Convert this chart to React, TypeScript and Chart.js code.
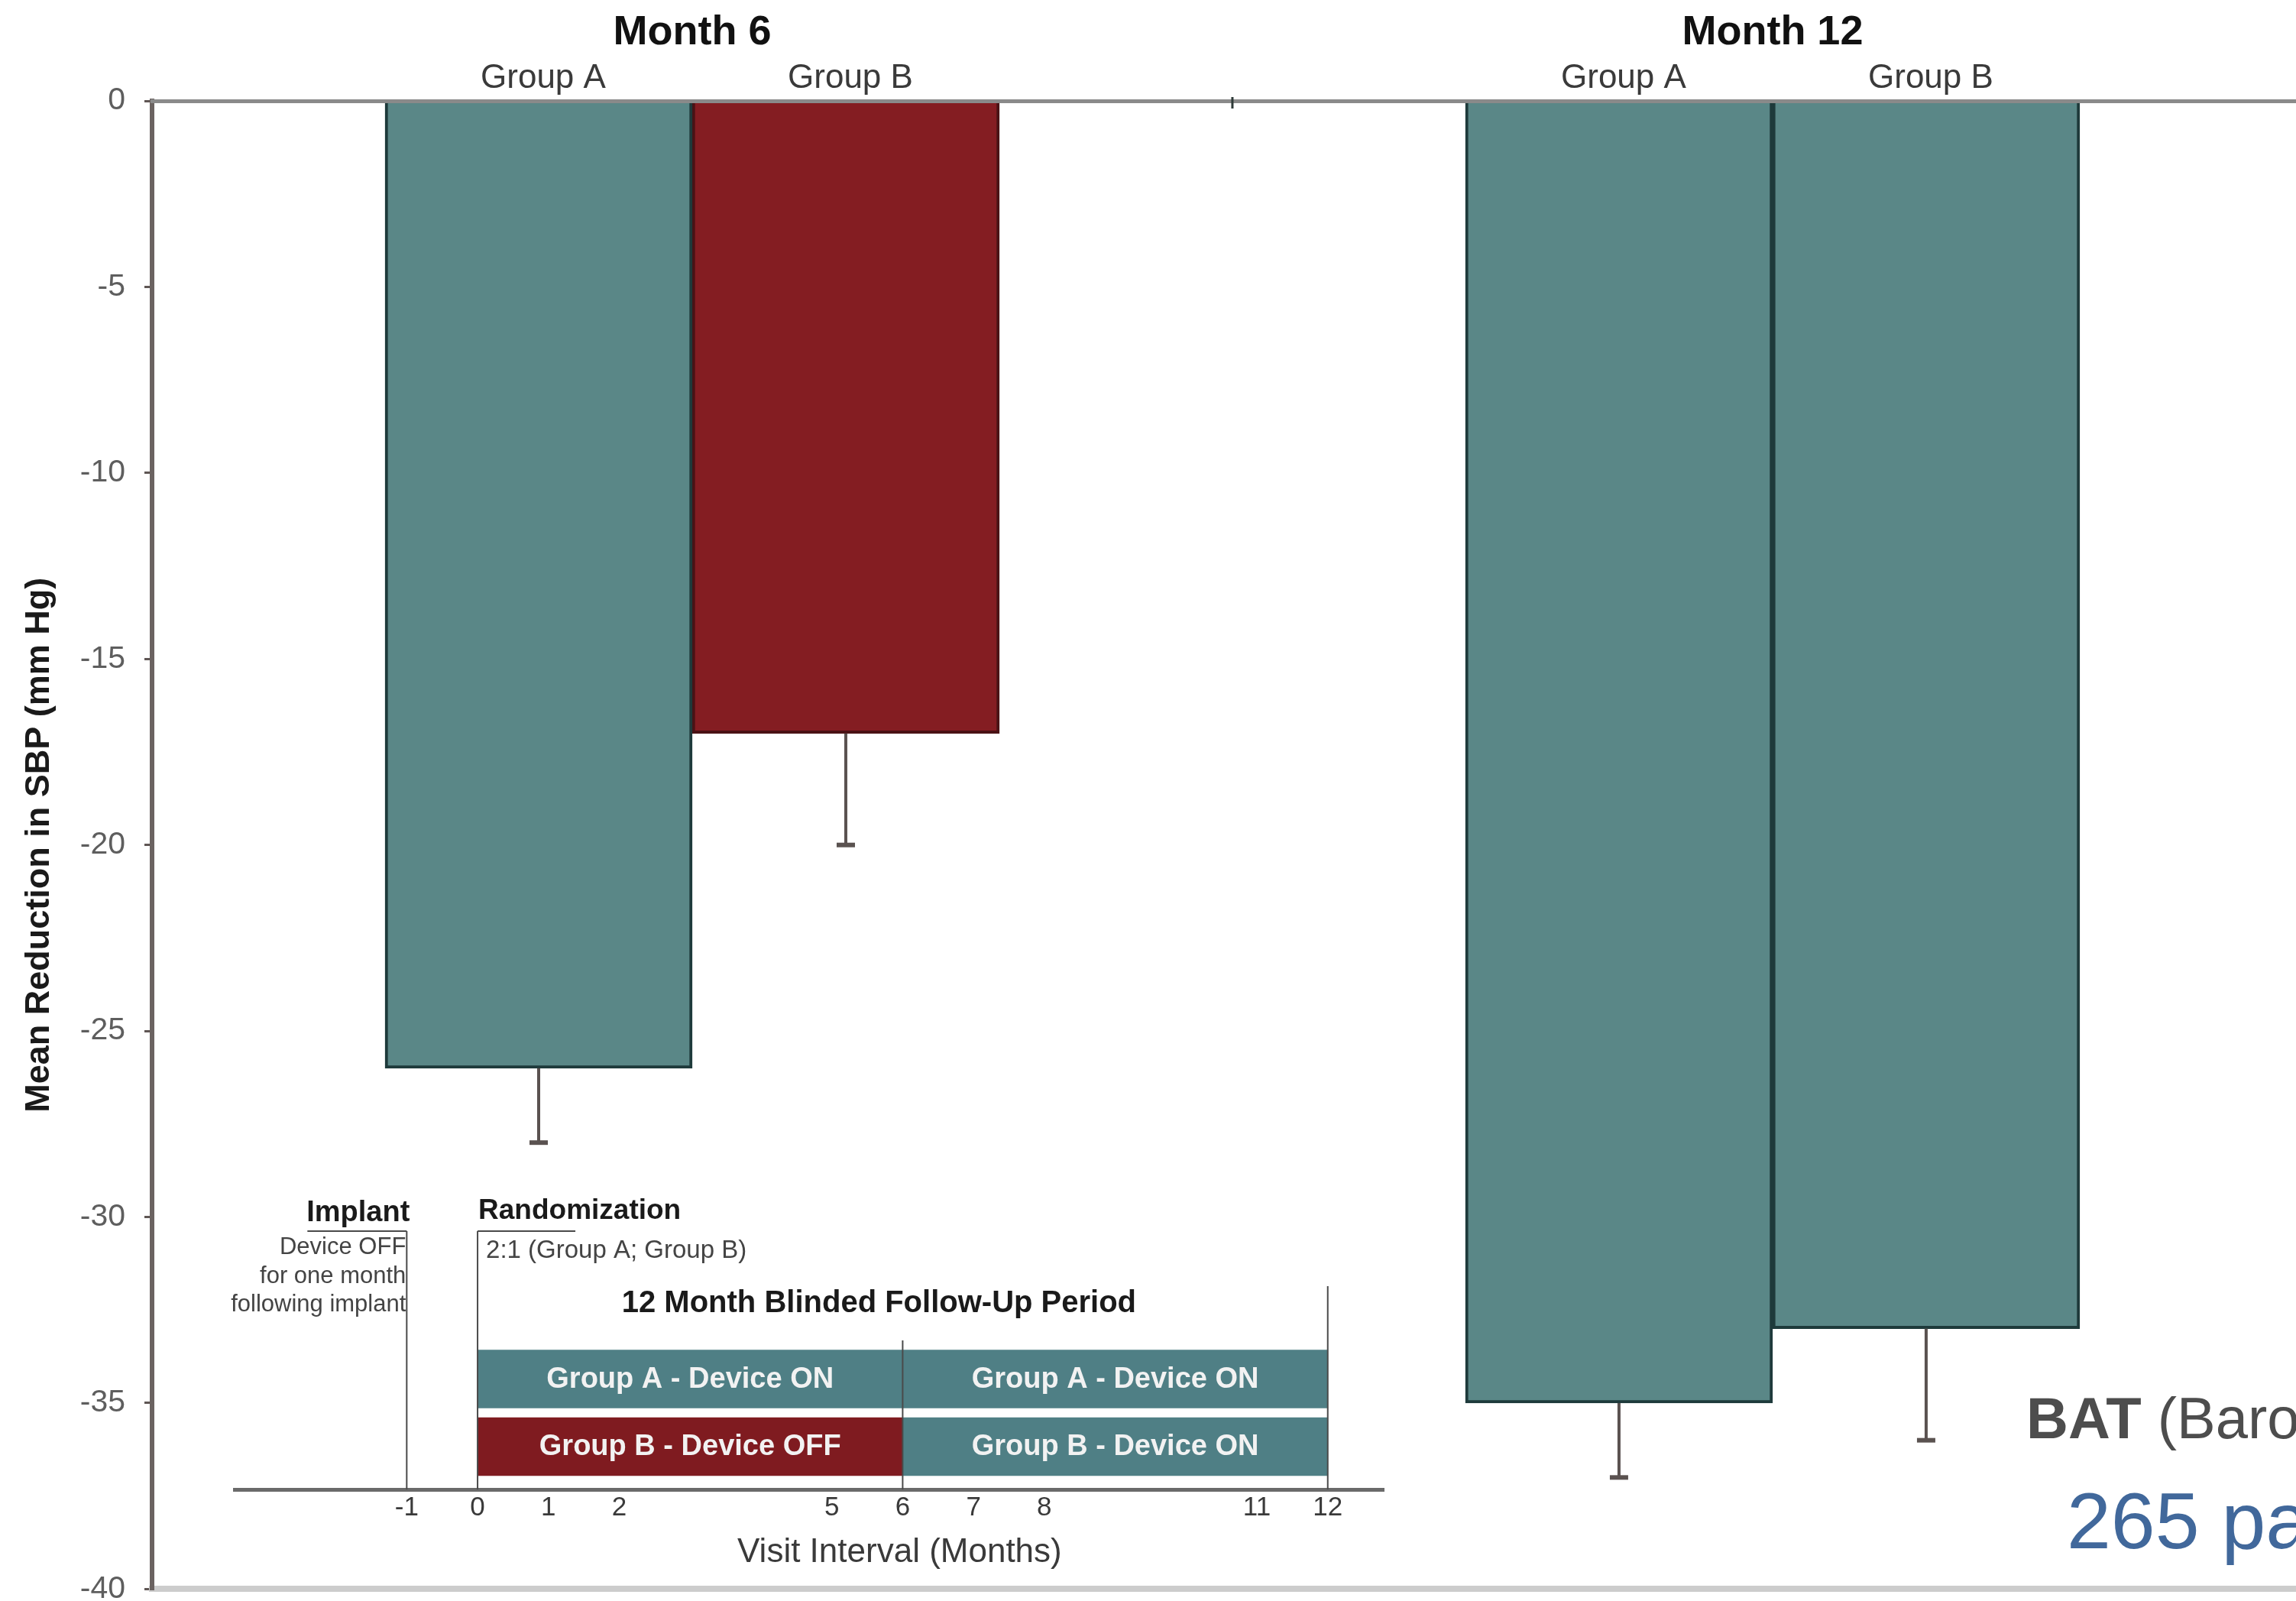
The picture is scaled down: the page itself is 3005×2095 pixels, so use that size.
import { useEffect, useRef } from 'react';
import { Chart, registerables } from 'chart.js';

Chart.register(...registerables);

// ---- Main chart data: mean change in systolic blood pressure ----
const CATEGORIES = ['Month 6', 'Month 12'];
const GROUPS = ['Group A', 'Group B'];
const GROUP_A_MEAN = [-26, -35];
const GROUP_B_MEAN = [-17, -33];
const GROUP_A_ERROR = [2, 2];
const GROUP_B_ERROR = [3, 3];
const GROUP_A_DEVICE_ON = [true, true];
const GROUP_B_DEVICE_ON = [false, true];
const Y_TICKS = [0, -5, -10, -15, -20, -25, -30, -35, -40];
const Y_TITLE = 'Mean Reduction in SBP (mm Hg)';
const NOTE_BOLD = 'BAT';
const NOTE_REST = ' (Baroreflex Activation Therapy)';
const NOTE_COUNT = '265 patients';

// ---- Inset: study timeline ----
const VISIT_MONTHS = [-1, 0, 1, 2, 5, 6, 7, 8, 11, 12];
const PERIODS: [number, number][] = [[0, 6], [6, 12]];
const ROW_GROUPS = ['Group A', 'Group B'];
const GROUP_A_PERIOD_ON = [true, true];
const GROUP_B_PERIOD_ON = [false, true];
const MILESTONES = [-1, 0, 6, 12];
const TIMELINE_TITLE = 'Visit Interval (Months)';
const FOLLOW_UP_LABEL = '12 Month Blinded Follow-Up Period';
const IMPLANT_LABEL = 'Implant';
const IMPLANT_NOTES = ['Device OFF', 'for one month', 'following implant'];
const RANDOMIZATION_LABEL = 'Randomization';
const RANDOMIZATION_NOTE = '2:1 (Group A; Group B)';

const FONT = "'Liberation Sans', Arial, Helvetica, sans-serif";
const TEAL = '#5a8787';
const TEAL_EDGE = '#1e3a3b';
const RED = '#841d22';
const RED_EDGE = '#4a1215';
const INSET_TEAL = '#4f7f85';
const INSET_RED = '#7f1b20';

// each category occupies a two-unit slot on the linear x axis
const slot = (i: number) => 2 * i + 1;
const X_MAX = 3.969;

const mainDecor = {
  id: 'mainDecor',
  afterDatasetsDraw(chart: any) {
    const { ctx } = chart;
    const y = chart.scales.y;
    chart.data.datasets.forEach((ds: any, di: number) => {
      const meta = chart.getDatasetMeta(di);
      meta.data.forEach((bar: any, i: number) => {
        const v = ds.data[i].y;
        const e = ds.errors[i];
        const y0 = bar.y;
        const y1 = y.getPixelForValue(v - e);
        ctx.save();
        ctx.strokeStyle = '#5a5250';
        ctx.lineWidth = 4;
        ctx.beginPath();
        ctx.moveTo(bar.x, y0);
        ctx.lineTo(bar.x, y1);
        ctx.stroke();
        ctx.lineWidth = 6;
        ctx.beginPath();
        ctx.moveTo(bar.x - 12, y1);
        ctx.lineTo(bar.x + 12, y1);
        ctx.stroke();
        // group name above each bar
        ctx.fillStyle = '#3a3a3a';
        ctx.font = `44px ${FONT}`;
        ctx.textAlign = 'center';
        ctx.textBaseline = 'alphabetic';
        ctx.fillText(ds.label, bar.x + 6, 115);
        ctx.restore();
      });
    });
  },
  afterDraw(chart: any) {
    const { ctx } = chart;
    const x = chart.scales.x;
    const top = chart.chartArea.top;
    ctx.save();
    // separator mark between the two visits
    ctx.strokeStyle = '#2e3a38';
    ctx.lineWidth = 3;
    ctx.beginPath();
    ctx.moveTo(x.getPixelForValue(2), top - 5);
    ctx.lineTo(x.getPixelForValue(2), top + 10);
    ctx.stroke();
    // therapy note
    ctx.textAlign = 'left';
    ctx.textBaseline = 'alphabetic';
    ctx.fillStyle = '#4d4d4d';
    ctx.font = `bold 76px ${FONT}`;
    ctx.fillText(NOTE_BOLD, 2652, 1882);
    const w = ctx.measureText(NOTE_BOLD).width;
    ctx.font = `76px ${FONT}`;
    ctx.fillText(NOTE_REST, 2652 + w, 1882);
    ctx.fillStyle = '#41689b';
    ctx.font = `104px ${FONT}`;
    ctx.fillText(NOTE_COUNT, 2705, 2026);
    ctx.restore();
  },
};

const insetDecor = {
  id: 'insetDecor',
  afterDatasetsDraw(chart: any) {
    const { ctx, chartArea } = chart;
    const x = chart.scales.x;
    const bottom = chartArea.bottom;
    const px = (v: number) => x.getPixelForValue(v);
    const lineTops: Record<number, number> = { [-1]: 111, 0: 111, 6: 254, 12: 183 };
    ctx.save();
    // period labels inside the bars
    ctx.fillStyle = '#f2f2f2';
    ctx.font = `bold 38px ${FONT}`;
    ctx.textAlign = 'center';
    ctx.textBaseline = 'middle';
    chart.data.datasets.forEach((ds: any, di: number) => {
      const meta = chart.getDatasetMeta(di);
      meta.data.forEach((bar: any, i: number) => {
        ctx.fillText(ds.labels[i], (bar.x + bar.base) / 2, bar.y + 1);
      });
    });
    // milestone markers
    ctx.strokeStyle = '#4a4a4a';
    ctx.lineWidth = 2;
    MILESTONES.forEach((m) => {
      ctx.beginPath();
      ctx.moveTo(px(m), lineTops[m]);
      ctx.lineTo(px(m), bottom);
      ctx.stroke();
    });
    ctx.beginPath();
    ctx.moveTo(px(-1) - 130, 111);
    ctx.lineTo(px(-1), 111);
    ctx.moveTo(px(0), 111);
    ctx.lineTo(px(0) + 128, 111);
    ctx.stroke();
    // annotations
    ctx.textBaseline = 'alphabetic';
    ctx.fillStyle = '#1a1a1a';
    ctx.textAlign = 'right';
    ctx.font = `bold 38px ${FONT}`;
    ctx.fillText(IMPLANT_LABEL, px(-1) + 4, 98);
    ctx.fillStyle = '#444';
    ctx.font = `31px ${FONT}`;
    IMPLANT_NOTES.forEach((t, i) => ctx.fillText(t, px(-1) - 1, 141 + i * 37.5));
    ctx.textAlign = 'left';
    ctx.fillStyle = '#1a1a1a';
    ctx.font = `bold 37px ${FONT}`;
    ctx.fillText(RANDOMIZATION_LABEL, px(0) + 1, 95);
    ctx.fillStyle = '#444';
    ctx.font = `33px ${FONT}`;
    ctx.fillText(RANDOMIZATION_NOTE, px(0) + 11, 146);
    ctx.textAlign = 'center';
    ctx.fillStyle = '#1a1a1a';
    ctx.font = `bold 40px ${FONT}`;
    ctx.fillText(FOLLOW_UP_LABEL, px(6) - 31, 217);
    ctx.restore();
  },
  afterDraw(chart: any) {
    const { ctx } = chart;
    const x = chart.scales.x;
    ctx.save();
    ctx.fillStyle = '#3a3a3a';
    ctx.font = `44px ${FONT}`;
    ctx.textAlign = 'center';
    ctx.textBaseline = 'alphabetic';
    ctx.fillText(TIMELINE_TITLE, x.getPixelForValue(6) - 4, 544);
    ctx.restore();
  },
};

function MainChart() {
  const ref = useRef<HTMLCanvasElement>(null);
  useEffect(() => {
    if (!ref.current) return;
    const means = [GROUP_A_MEAN, GROUP_B_MEAN];
    const errors = [GROUP_A_ERROR, GROUP_B_ERROR];
    const deviceOn = [GROUP_A_DEVICE_ON, GROUP_B_DEVICE_ON];
    const datasets = GROUPS.map((g, gi) => ({
      label: g,
      xAxisID: 'x',
      yAxisID: 'y',
      data: CATEGORIES.map((_, ci) => ({ x: slot(ci), y: means[gi][ci] })),
      errors: errors[gi],
      backgroundColor: deviceOn[gi].map((on) => (on ? TEAL : RED)),
      borderColor: deviceOn[gi].map((on) => (on ? TEAL_EDGE : RED_EDGE)),
      borderWidth: 4,
      barThickness: 402,
    }));
    const chart = new Chart(ref.current, {
      type: 'bar',
      data: { datasets } as any,
      options: {
        animation: false,
        responsive: true,
        maintainAspectRatio: false,
        layout: { padding: { left: 0, right: 0, top: 0, bottom: 17 } },
        plugins: { legend: { display: false }, tooltip: { enabled: false } },
        scales: {
          x: {
            type: 'linear',
            position: 'top',
            offset: false,
            min: 0,
            max: X_MAX,
            afterBuildTicks: (s: any) => {
              s.ticks = CATEGORIES.map((_, i) => ({ value: slot(i) }));
            },
            afterFit: (s: any) => {
              s.height = 132;
            },
            ticks: {
              autoSkip: false,
              maxRotation: 0,
              padding: 56,
              color: '#111',
              font: { family: FONT, size: 54, weight: 'bold' },
              callback: (_v: any, i: number) => CATEGORIES[i],
            },
            grid: { display: false, drawTicks: false, offset: false },
            border: { display: true, color: '#8a8a8a', width: 5, z: 1 },
          },
          x2: {
            type: 'linear',
            position: 'bottom',
            offset: false,
            min: 0,
            max: X_MAX,
            afterFit: (s: any) => {
              s.height = 0;
            },
            ticks: { display: false },
            grid: { display: false, drawTicks: false },
            border: { display: true, color: '#cccccc', width: 8 },
          },
          y: {
            type: 'linear',
            min: -40,
            max: 0,
            afterBuildTicks: (s: any) => {
              s.ticks = Y_TICKS.map((v) => ({ value: v }));
            },
            afterFit: (s: any) => {
              s.width = 199;
            },
            ticks: {
              padding: 25,
              color: '#5e5e5e',
              font: { family: FONT, size: 41 },
              callback: (v: any) => String(v),
            },
            grid: {
              display: true,
              drawOnChartArea: false,
              drawTicks: true,
              tickLength: 10,
              color: '#5f5654',
              lineWidth: 3,
            },
            border: { display: true, color: '#6b6361', width: 6 },
            title: {
              display: true,
              text: Y_TITLE,
              color: '#1a1a1a',
              font: { family: FONT, size: 45, weight: 'bold', lineHeight: 1.2 },
              padding: { top: 25, bottom: 0 },
            },
          },
        },
      } as any,
      plugins: [mainDecor],
    });
    return () => chart.destroy();
  }, []);
  // canvas runs a little past the window's bottom edge so the -40 label fits below the plot
  return (
    <div style={{ position: 'fixed', left: 0, top: 0, width: 3005, height: 2129 }}>
      <canvas ref={ref} />
    </div>
  );
}

function TimelineInset() {
  const ref = useRef<HTMLCanvasElement>(null);
  useEffect(() => {
    if (!ref.current) return;
    const rowOn = [GROUP_A_PERIOD_ON, GROUP_B_PERIOD_ON];
    const datasets = PERIODS.map((period, pi) => ({
      label: `Months ${period[0]}-${period[1]}`,
      data: ROW_GROUPS.map((_, ri) => ({ x: period, y: ri + 1 })),
      labels: ROW_GROUPS.map((g, ri) => `${g} - Device ${rowOn[ri][pi] ? 'ON' : 'OFF'}`),
      backgroundColor: ROW_GROUPS.map((_, ri) => (rowOn[ri][pi] ? INSET_TEAL : INSET_RED)),
      borderWidth: 0,
      grouped: false,
      barThickness: 76,
    }));
    const chart = new Chart(ref.current, {
      type: 'bar',
      data: { datasets } as any,
      options: {
        animation: false,
        responsive: true,
        maintainAspectRatio: false,
        indexAxis: 'y',
        layout: { padding: { left: 307, right: 89, top: 10, bottom: 0 } },
        plugins: { legend: { display: false }, tooltip: { enabled: false } },
        scales: {
          x: {
            type: 'linear',
            position: 'bottom',
            offset: false,
            min: -3.43,
            max: 12.79,
            afterBuildTicks: (s: any) => {
              s.ticks = VISIT_MONTHS.map((v) => ({ value: v }));
            },
            afterFit: (s: any) => {
              s.height = 146;
            },
            ticks: {
              autoSkip: false,
              maxRotation: 0,
              padding: 3,
              color: '#3a3a3a',
              font: { family: FONT, size: 35 },
              callback: (v: any) => String(v),
            },
            grid: { display: false, drawTicks: false },
            border: { display: true, color: '#6a6a6a', width: 5 },
          },
          y: {
            type: 'linear',
            display: false,
            offset: false,
            reverse: true,
            min: -2.3277,
            max: 2.6328,
          },
        },
      } as any,
      plugins: [insetDecor],
    });
    return () => chart.destroy();
  }, []);
  return (
    <div style={{ position: 'fixed', left: 0, top: 1500, width: 1900, height: 595 }}>
      <canvas ref={ref} />
    </div>
  );
}

export default function App() {
  return (
    <>
      <MainChart />
      <TimelineInset />
    </>
  );
}
